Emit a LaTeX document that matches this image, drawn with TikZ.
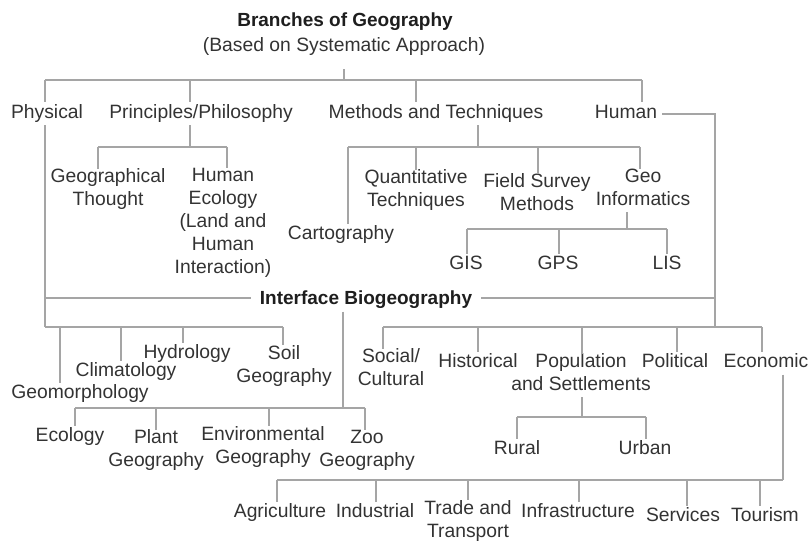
\documentclass[tikz,border=0pt]{standalone}
\usepackage{fontspec}
\setmainfont{Liberation Sans}
\definecolor{txt}{HTML}{333333}
\definecolor{hdc}{HTML}{1E1E1E}
\definecolor{lnc}{HTML}{A5A5A5}
\begin{document}
\begin{tikzpicture}[x=1pt,y=-1pt,
  lbl/.style={text=txt, font=\fontsize{19.3}{23}\selectfont, align=center,
              inner sep=0pt, outer sep=0pt,
              execute at begin node=\strut, execute at end node=\strut},
  hdr/.style={lbl, text=hdc, font=\fontsize{19}{23}\selectfont\bfseries},
  ln/.style={draw=lnc, line width=1.3pt}]
\useasboundingbox (0,0) rectangle (810,540);

% ---- labels ----
\node[hdr] (title) at (345,22) {Branches of Geography};
\node[lbl] (sub) at (344,47) {(Based on Systematic Approach)};
\node[lbl] (phys) at (47,114) {Physical};
\node[lbl] (prin) at (201,114) {Principles/Philosophy};
\node[lbl] (meth) at (436,114) {Methods and Techniques};
\node[lbl] (human) at (626,114) {Human};

\node[lbl] (geoth) at (108,190.5) {Geographical\\Thought};
\node[lbl] (hueco) at (223,224.5) {Human\\Ecology\\(Land and\\Human\\Interaction)};
\node[lbl] (carto) at (341,235) {Cartography};
\node[lbl] (quant) at (416,191.5) {Quantitative\\Techniques};
\node[lbl] (field) at (537,195.5) {Field Survey\\Methods};
\node[lbl] (geoinf) at (643,190.5) {Geo\\Informatics};
\node[lbl] (gis) at (466,265) {GIS};
\node[lbl] (gps) at (558,265) {GPS};
\node[lbl] (lis) at (667,265) {LIS};

\node[hdr] (iface) at (366,300) {Interface Biogeography};

\node[lbl] (geomo) at (80,394) {Geomorphology};
\node[lbl] (clim) at (126,372) {Climatology};
\node[lbl] (hydro) at (187,354) {Hydrology};
\node[lbl] (soil) at (284,367) {Soil\\Geography};
\node[lbl] (ecol) at (70,437) {Ecology};
\node[lbl] (plant) at (156,451.5) {Plant\\Geography};
\node[lbl] (env) at (263,448) {Environmental\\Geography};
\node[lbl] (zoo) at (367,452) {Zoo\\Geography};

\node[lbl] (social) at (391,370.5) {Social/\\Cultural};
\node[lbl] (hist) at (478,363) {Historical};
\node[lbl] (pop) at (581,375.5) {Population\\and Settlements};
\node[lbl] (polit) at (675,363) {Political};
\node[lbl] (econ) at (766,363) {Economic};
\node[lbl] (rural) at (517,450) {Rural};
\node[lbl] (urban) at (645,450) {Urban};

\node[lbl] (agri) at (280,513) {Agriculture};
\node[lbl] (indus) at (375,513) {Industrial};
\node[lbl] (trade) at (468,522) {Trade and\\Transport};
\node[lbl] (infra) at (578,513) {Infrastructure};
\node[lbl] (serv) at (683,517) {Services};
\node[lbl] (tour) at (765,517) {Tourism};

% ---- bus points ----
\coordinate (p1) at (45,80);   \coordinate (p2) at (190,80);
\coordinate (p3) at (416,80);  \coordinate (p4) at (642,80);
\coordinate (q0) at (190,147); \coordinate (q1) at (98,147);  \coordinate (q2) at (227,147);
\coordinate (m0) at (478,147); \coordinate (m1) at (348,147); \coordinate (m2) at (416,147);
\coordinate (m3) at (538,147); \coordinate (m4) at (640,147);
\coordinate (g0) at (627,229); \coordinate (g1) at (467,229); \coordinate (g2) at (559,229);
\coordinate (g3) at (667,229);
\coordinate (iL) at (45,298);  \coordinate (iR) at (715,298);
\coordinate (f0) at (45,327);  \coordinate (f1) at (60,327);  \coordinate (f2) at (121,327);
\coordinate (f3) at (183,327); \coordinate (f4) at (283,327);
\coordinate (h0) at (715,115); \coordinate (h1) at (715,327);
\coordinate (k1) at (383,327); \coordinate (k2) at (478,327); \coordinate (k3) at (582,327);
\coordinate (k4) at (677,327); \coordinate (k5) at (762,327);
\coordinate (s0) at (343,408); \coordinate (e1) at (75,408);  \coordinate (e2) at (156,408);
\coordinate (e3) at (269,408); \coordinate (e4) at (365,408);
\coordinate (r0) at (582,417); \coordinate (r1) at (517,417); \coordinate (r2) at (646,417);
\coordinate (c0) at (783,480); \coordinate (a1) at (277,480); \coordinate (a2) at (376,480);
\coordinate (a3) at (468,480); \coordinate (a4) at (579,480); \coordinate (a5) at (687,480);
\coordinate (a6) at (760,480);

% ---- top level ----
\draw[ln, shorten <=11pt] (sub.south) -- (sub.south |- p1);
\draw[ln] (p1) -- (p4);
\draw[ln] (p1) -- (p1 |- phys.north);
\draw[ln] (p2) -- (p2 |- prin.north);
\draw[ln] (p3) -- (p3 |- meth.north);
\draw[ln] (p4) -- (p4 |- human.north);

% ---- principles / philosophy ----
\draw[ln] (q0 |- prin.south) -- (q0);
\draw[ln] (q1) -- (q2);
\draw[ln] (q1) -- (q1 |- geoth.north);
\draw[ln] (q2) -- (q2 |- hueco.north);

% ---- methods and techniques ----
\draw[ln] (m0 |- meth.south) -- (m0);
\draw[ln] (m1) -- (m4);
\draw[ln] (m1) -- (m1 |- carto.north);
\draw[ln] (m2) -- (m2 |- quant.north);
\draw[ln] (m3) -- (m3 |- field.north);
\draw[ln] (m4) -- (m4 |- geoinf.north);
\draw[ln] (g0 |- geoinf.south) -- (g0);
\draw[ln] (g1) -- (g3);
\draw[ln] (g1) -- (g1 |- gis.north);
\draw[ln] (g2) -- (g2 |- gps.north);
\draw[ln] (g3) -- (g3 |- lis.north);

% ---- physical ----
\draw[ln] (p1 |- phys.south) -- (f0);
\draw[ln] (f0) -- (f4);
\draw[ln] (f1) -- (f1 |- geomo.north);
\draw[ln] (f2) -- (f2 |- clim.north);
\draw[ln] (f3) -- (f3 |- hydro.north);
\draw[ln] (f4) -- (f4 |- soil.north);

% ---- interface biogeography ----
\draw[ln, shorten >=9pt] (iL) -- (iL -| iface.west);
\draw[ln, shorten <=9pt] (iR -| iface.east) -- (iR);
\draw[ln] (s0 |- iface.south) -- (s0);
\draw[ln] (e1) -- (e4);
\draw[ln] (e1) -- (e1 |- ecol.north);
\draw[ln] (e2) -- (e2 |- plant.north);
\draw[ln] (e3) -- (e3 |- env.north);
\draw[ln] (e4) -- (e4 |- zoo.north);

% ---- human ----
\draw[ln, shorten <=5pt] (human.east) -- (human.east -| h0) -- (h1);
\draw[ln] (k1) -- (k5);
\draw[ln] (k1) -- (k1 |- social.north);
\draw[ln] (k2) -- (k2 |- hist.north);
\draw[ln] (k3) -- (k3 |- pop.north);
\draw[ln] (k4) -- (k4 |- polit.north);
\draw[ln] (k5) -- (k5 |- econ.north);
\draw[ln] (r0 |- pop.south) -- (r0);
\draw[ln] (r1) -- (r2);
\draw[ln] (r1) -- (r1 |- rural.north);
\draw[ln] (r2) -- (r2 |- urban.north);
\draw[ln] (c0 |- econ.south) -- (c0);
\draw[ln] (a1) -- (c0);
\draw[ln] (a1) -- (a1 |- agri.north);
\draw[ln] (a2) -- (a2 |- indus.north);
\draw[ln] (a3) -- (a3 |- trade.north);
\draw[ln] (a4) -- (a4 |- infra.north);
\draw[ln] (a5) -- (a5 |- serv.north);
\draw[ln] (a6) -- (a6 |- tour.north);
\end{tikzpicture}
\end{document}
